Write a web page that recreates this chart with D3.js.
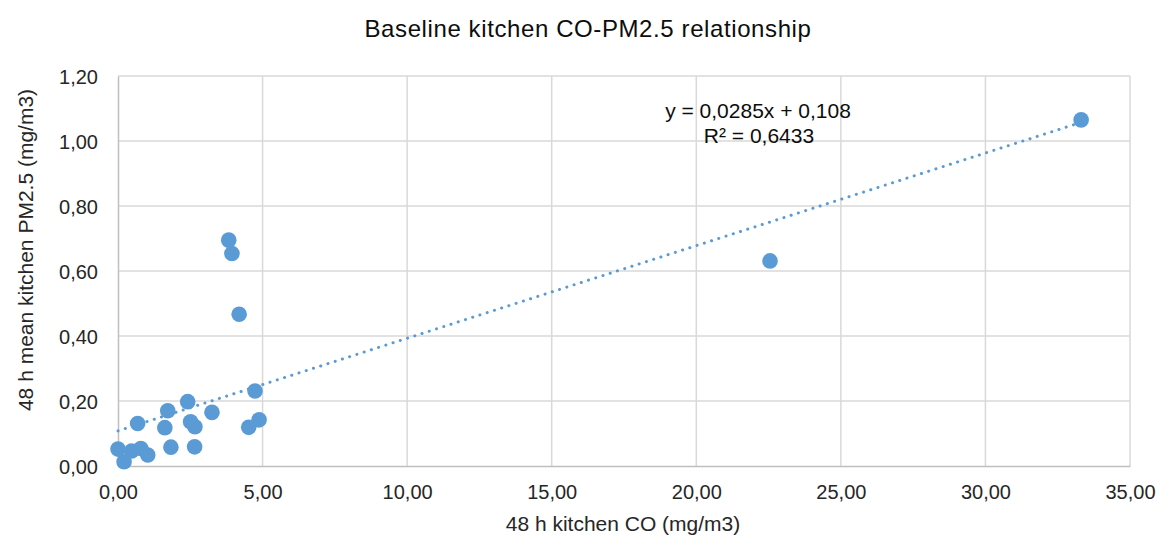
<!DOCTYPE html>
<html><head><meta charset="utf-8">
<script src="https://cdn.jsdelivr.net/npm/d3@7"></script>
<style>body{margin:0;background:#fff}svg{display:block;font-family:"Liberation Sans",Arial,sans-serif}</style>
</head><body><svg id="c" width="1160" height="537"></svg>
<script>
const coX = [0.0,0.21,0.47,0.79,1.03,0.68,1.72,1.62,1.83,2.41,2.51,2.66,2.65,3.25,4.74,4.52,4.88,3.83,3.94,4.19,22.55,33.31];
const pmY = [0.052,0.013,0.046,0.054,0.034,0.131,0.170,0.118,0.058,0.198,0.136,0.121,0.059,0.165,0.231,0.119,0.142,0.695,0.654,0.467,0.631,1.065];
const xTicks = [0,5,10,15,20,25,30,35];
const yTicks = [0,0.2,0.4,0.6,0.8,1.0,1.2];
const slope = 0.0285, intercept = 0.108;
const fmt = v => d3.format(".2f")(v).replace(".", ",");

const svg = d3.select("#c");
const x = d3.scaleLinear().domain([0,35]).range([118,1130]);
const y = d3.scaleLinear().domain([0,1.2]).range([466,76]);

// grid
svg.append("g").selectAll("line").data(xTicks.slice(1)).join("line")
  .attr("x1",d=>x(d)).attr("x2",d=>x(d)).attr("y1",76).attr("y2",466)
  .attr("stroke","#d9d9d9").attr("stroke-width",1.5);
svg.append("g").selectAll("line").data(yTicks.slice(1)).join("line")
  .attr("x1",118).attr("x2",1130).attr("y1",d=>y(d)).attr("y2",d=>y(d))
  .attr("stroke","#d9d9d9").attr("stroke-width",1.5);

// axes
const xa = svg.append("g").attr("transform","translate(0,466)")
  .call(d3.axisBottom(x).tickValues(xTicks).tickFormat(fmt).tickSize(0));
const ya = svg.append("g").attr("transform","translate(118,0)")
  .call(d3.axisLeft(y).tickValues(yTicks).tickFormat(fmt).tickSize(0).tickPadding(20));
[xa,ya].forEach(a=>{
  a.select(".domain").attr("stroke","#bfbfbf").attr("stroke-width",1.5);
  a.selectAll("text").attr("font-size",20).attr("fill","#262626").attr("font-family","Liberation Sans, Arial, sans-serif");
});
xa.selectAll("text").attr("dy",null).attr("y",33);
ya.selectAll("text").attr("dy","0.36em");

// points
svg.append("g").selectAll("circle").data(coX.map((v,i)=>[v,pmY[i]])).join("circle")
  .attr("cx",d=>x(d[0])).attr("cy",d=>y(d[1])).attr("r",7.8).attr("fill","#5b9bd5");

// trendline
const tx = [0, d3.max(coX)];
svg.append("line")
  .attr("x1",x(tx[0])).attr("y1",y(intercept+slope*tx[0]))
  .attr("x2",x(tx[1])).attr("y2",y(intercept+slope*tx[1]))
  .attr("stroke","#5b9bd5").attr("stroke-width",3).attr("stroke-linecap","round")
  .attr("stroke-dasharray","0.1 7.5");

// texts
svg.append("text").attr("x",588).attr("y",37).attr("text-anchor","middle")
  .attr("font-size",24).attr("letter-spacing","0.6px").attr("fill","#0d0d0d").text("Baseline kitchen CO-PM2.5 relationship");
svg.append("text").attr("x",623).attr("y",531).attr("text-anchor","middle")
  .attr("font-size",21).attr("fill","#262626").text("48 h kitchen CO (mg/m3)");
svg.append("text").attr("transform","translate(33,250) rotate(-90)").attr("text-anchor","middle")
  .attr("font-size",21).attr("fill","#262626").text("48 h mean kitchen PM2.5 (mg/m3)");
svg.append("text").attr("x",758).attr("y",118).attr("text-anchor","middle")
  .attr("font-size",21).attr("fill","#0d0d0d").text("y = 0,0285x + 0,108");
svg.append("text").attr("x",759).attr("y",143).attr("text-anchor","middle")
  .attr("font-size",21).attr("fill","#0d0d0d").text("R² = 0,6433");
</script></body></html>
